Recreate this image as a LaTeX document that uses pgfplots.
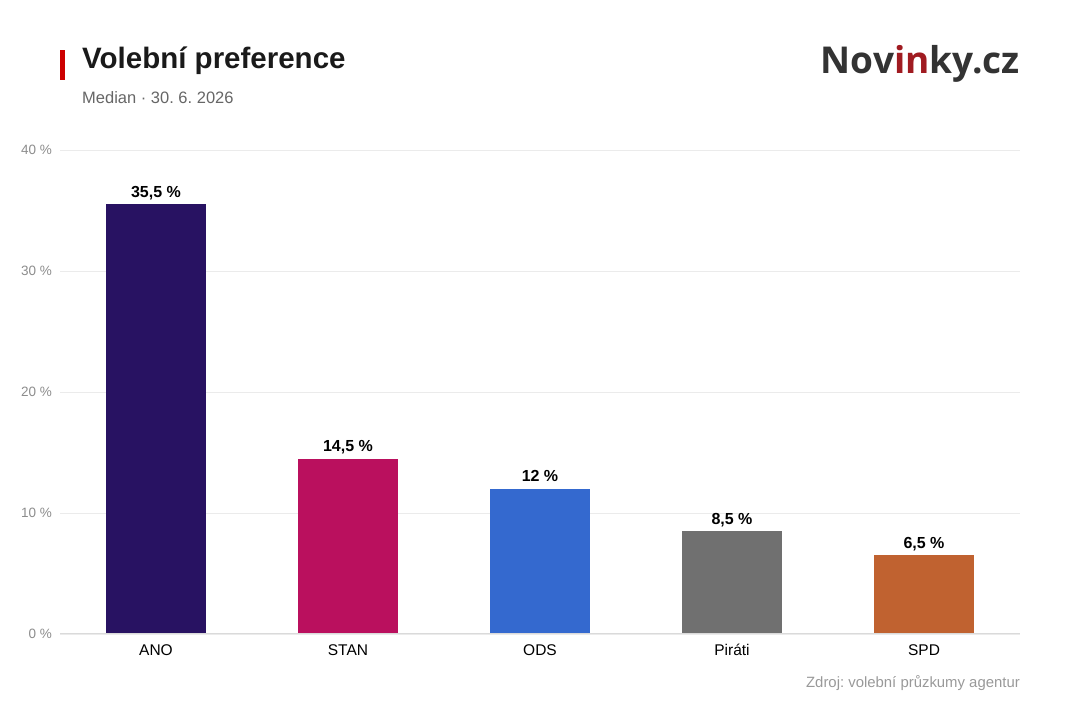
\documentclass[border=0pt]{standalone}
\usepackage{pgfplots}
\pgfplotsset{compat=1.18}
\usepackage{fontspec}
\setmainfont{Liberation Sans}
\newfontfamily\logofont{Open Sans}
\frenchspacing
\definecolor{cANO}{HTML}{281262}
\definecolor{cSTAN}{HTML}{BA105E}
\definecolor{cODS}{HTML}{3469CF}
\definecolor{cPIR}{HTML}{707070}
\definecolor{cSPD}{HTML}{C06230}
\definecolor{gridc}{HTML}{EBEBEB}
\definecolor{axisc}{HTML}{DADADA}
\definecolor{tickc}{HTML}{8C8C8C}
\definecolor{subc}{HTML}{666666}
\definecolor{srcc}{HTML}{999999}
\definecolor{titc}{HTML}{1A1A1A}
\definecolor{logoc}{HTML}{333333}
\definecolor{logor}{HTML}{A01B21}
\definecolor{redbar}{HTML}{CC0000}
\begin{document}
\begin{tikzpicture}[x=1bp,y=1bp]
\path (0,0) rectangle (1080,720);
\fill[redbar] (60,640) rectangle (65,670);
\node[anchor=base west, inner sep=0, text=titc] at (82,651) {\fontsize{29.5bp}{33bp}\selectfont\bfseries Volební preference};
\node[anchor=base west, inner sep=0, text=subc] at (82,616) {\fontsize{16.5bp}{20bp}\selectfont Median · 30. 6. 2026};
\node[anchor=base east, inner sep=0, text=logoc] at (1020,646) {\fontsize{37bp}{40bp}\selectfont\logofont\bfseries Nov\textcolor{logor}{in}ky.cz};
\node[anchor=base east, inner sep=0, text=srcc] at (1020,32) {\fontsize{14.9bp}{17bp}\selectfont Zdroj: volební průzkumy agentur};
\begin{axis}[at={(60bp,86bp)}, anchor=south west, scale only axis,
  width=960bp, height=484bp,
  xmin=-0.5, xmax=4.5, ymin=0, ymax=40,
  ytick={0,10,20,30,40}, yticklabels={0 \%,10 \%,20 \%,30 \%,40 \%},
  xtick={0,1,2,3,4}, xticklabels={ANO,STAN,ODS,Piráti,SPD},
  axis line style={draw=none},
  major tick length=0pt,
  ymajorgrids, major grid style={gridc, line width=0.8bp},
  yticklabel style={font=\fontsize{13.5bp}{15bp}\selectfont, text=tickc, inner sep=0pt, xshift=-8bp},
  xticklabel style={font=\fontsize{15.5bp}{18bp}\selectfont, text=black, inner sep=0pt, anchor=base, yshift=-22bp},
  ybar, bar width=100bp, bar shift=0pt,
  nodes near coords={\pgfmathprintnumber[fixed,precision=1,use comma,assume math mode=true]{\pgfplotspointmeta} \%},
  every node near coord/.append style={font=\fontsize{16bp}{18bp}\selectfont\bfseries, text=black, anchor=base, inner sep=0pt, yshift=7bp},
  clip=false,
]
\addplot[fill=cANO, draw=none] coordinates {(0,35.5)};
\addplot[fill=cSTAN, draw=none] coordinates {(1,14.5)};
\addplot[fill=cODS, draw=none] coordinates {(2,12)};
\addplot[fill=cPIR, draw=none] coordinates {(3,8.5)};
\addplot[fill=cSPD, draw=none] coordinates {(4,6.5)};
\draw[axisc, line width=1bp] (axis cs:-0.5,0) -- (axis cs:4.5,0);
\end{axis}
\end{tikzpicture}
\end{document}
